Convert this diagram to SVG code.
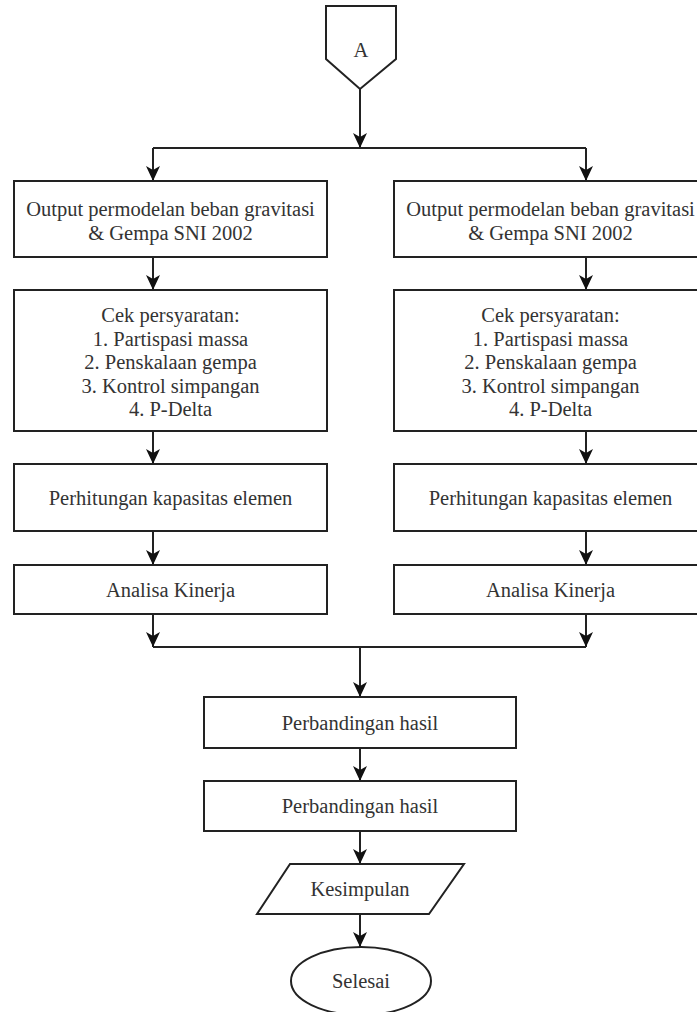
<svg xmlns="http://www.w3.org/2000/svg" width="697" height="1012" viewBox="0 0 697 1012">
<style>
.box{fill:#fff;stroke:#222;stroke-width:2}
.ln{fill:none;stroke:#222;stroke-width:2}
.t{font-family:'Liberation Serif',Tinos,'Times New Roman','DejaVu Serif',serif;font-size:20.5px;fill:#333;text-anchor:middle}
</style>
<defs>
<marker id="ah" markerUnits="userSpaceOnUse" markerWidth="16" markerHeight="14" refX="15" refY="7" orient="auto">
<path d="M0,0 L15,7 L0,14 L4,7 Z" fill="#111"/>
</marker>
</defs>
<rect width="697" height="1012" fill="#fff"/>
<g id="connectors">
<line class="ln" x1="360" y1="89" x2="360" y2="148" marker-end="url(#ah)"/>
<polyline class="ln" points="153,148 586,148"/>
<line class="ln" x1="153" y1="148" x2="153" y2="181" marker-end="url(#ah)"/>
<line class="ln" x1="586" y1="148" x2="586" y2="181" marker-end="url(#ah)"/>
<line class="ln" x1="153" y1="257" x2="153" y2="290" marker-end="url(#ah)"/>
<line class="ln" x1="586" y1="257" x2="586" y2="290" marker-end="url(#ah)"/>
<line class="ln" x1="153" y1="431" x2="153" y2="464" marker-end="url(#ah)"/>
<line class="ln" x1="586" y1="431" x2="586" y2="464" marker-end="url(#ah)"/>
<line class="ln" x1="153" y1="531" x2="153" y2="565" marker-end="url(#ah)"/>
<line class="ln" x1="586" y1="531" x2="586" y2="565" marker-end="url(#ah)"/>
<line class="ln" x1="153" y1="614" x2="153" y2="647" marker-end="url(#ah)"/>
<line class="ln" x1="586" y1="614" x2="586" y2="647" marker-end="url(#ah)"/>
<polyline class="ln" points="153,647 586,647"/>
<line class="ln" x1="360" y1="647" x2="360" y2="697" marker-end="url(#ah)"/>
<line class="ln" x1="360" y1="748" x2="360" y2="781" marker-end="url(#ah)"/>
<line class="ln" x1="360" y1="831" x2="360" y2="864" marker-end="url(#ah)"/>
<line class="ln" x1="360" y1="914" x2="360" y2="947" marker-end="url(#ah)"/>
</g>
<g id="nodeA">
<polygon class="box" points="326,6 396,6 396,59 360,89 326,59"/>
<text class="t" x="361" y="57">A</text>
</g>
<g id="outL">
<rect class="box" x="14" y="181" width="313" height="76"/>
<text class="t" x="170.5" y="216">Output permodelan beban gravitasi</text>
<text class="t" x="170.5" y="240">&amp; Gempa SNI 2002</text>
</g>
<g id="outR">
<rect class="box" x="394" y="181" width="313" height="76"/>
<text class="t" x="550.5" y="216">Output permodelan beban gravitasi</text>
<text class="t" x="550.5" y="240">&amp; Gempa SNI 2002</text>
</g>
<g id="cekL">
<rect class="box" x="14" y="290" width="313" height="141"/>
<text class="t" x="170.5" y="322">Cek persyaratan:</text>
<text class="t" x="170.5" y="345.5">1. Partispasi massa</text>
<text class="t" x="170.5" y="369">2. Penskalaan gempa</text>
<text class="t" x="170.5" y="392.5">3. Kontrol simpangan</text>
<text class="t" x="170.5" y="416">4. P-Delta</text>
</g>
<g id="cekR">
<rect class="box" x="394" y="290" width="313" height="141"/>
<text class="t" x="550.5" y="322">Cek persyaratan:</text>
<text class="t" x="550.5" y="345.5">1. Partispasi massa</text>
<text class="t" x="550.5" y="369">2. Penskalaan gempa</text>
<text class="t" x="550.5" y="392.5">3. Kontrol simpangan</text>
<text class="t" x="550.5" y="416">4. P-Delta</text>
</g>
<g id="kapL">
<rect class="box" x="14" y="464" width="313" height="67"/>
<text class="t" x="170.5" y="505">Perhitungan kapasitas elemen</text>
</g>
<g id="kapR">
<rect class="box" x="394" y="464" width="313" height="67"/>
<text class="t" x="550.5" y="505">Perhitungan kapasitas elemen</text>
</g>
<g id="kinL">
<rect class="box" x="14" y="565" width="313" height="49"/>
<text class="t" x="170.5" y="597">Analisa Kinerja</text>
</g>
<g id="kinR">
<rect class="box" x="394" y="565" width="313" height="49"/>
<text class="t" x="550.5" y="597">Analisa Kinerja</text>
</g>
<g id="banding1">
<rect class="box" x="204" y="697" width="312" height="51"/>
<text class="t" x="360" y="730">Perbandingan hasil</text>
</g>
<g id="banding2">
<rect class="box" x="204" y="781" width="312" height="50"/>
<text class="t" x="360" y="813">Perbandingan hasil</text>
</g>
<g id="kesimpulan">
<polygon class="box" points="290,864 464,864 429,914 257,914"/>
<text class="t" x="360" y="896">Kesimpulan</text>
</g>
<g id="selesai">
<ellipse class="box" cx="361" cy="981" rx="70" ry="34"/>
<text class="t" x="361" y="988">Selesai</text>
</g>
</svg>
